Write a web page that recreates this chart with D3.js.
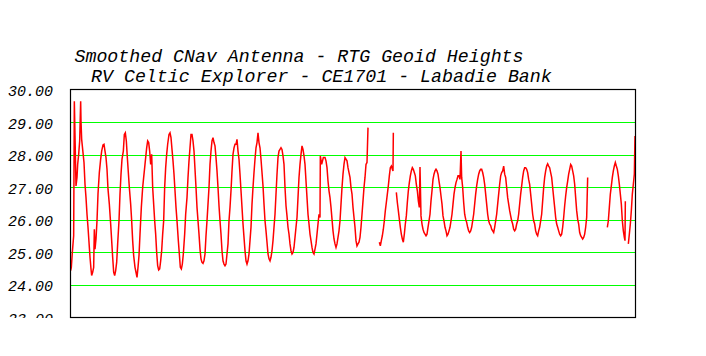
<!DOCTYPE html>
<html><head><meta charset="utf-8">
<script src="https://cdn.jsdelivr.net/npm/d3@7"></script>
<style>html,body{margin:0;padding:0;background:#fff;}svg{display:block;}</style>
</head><body><svg id="c" width="706" height="356"></svg>
<script>
const titleLines = ["Smoothed CNav Antenna - RTG Geoid Heights", "RV Celtic Explorer - CE1701 - Labadie Bank"];
const yTicks = [23, 24, 25, 26, 27, 28, 29, 30];
const gridValues = [24, 25, 26, 27, 28, 29];
// elapsed time (minutes) and smoothed geoid height (m); null = data gap
const minutes = [20,40,70,110,130,180,210,230,260,290,320,330,350,380,420,450,480,510,540,570,600,630,650,680,710,730,750,780,810,840,880,920,950,990,1020,1050,1080,1110,1140,1180,1220,1250,1280,1310,1340,1370,1400,1430,1470,1500,1530,1560,1600,1630,1660,1690,1720,1750,1780,1820,1850,1880,1910,1950,1980,2010,2040,2070,2100,2140,2180,2210,2240,2270,2300,2330,2360,2390,2420,2450,2480,2510,2540,2570,2600,2630,2660,2690,2720,2750,2780,2810,2840,2870,2900,2930,2970,3000,3030,3060,3090,3120,3150,3180,3210,3250,3280,3310,3340,3370,3400,3440,3470,3510,3540,3570,3600,3630,3660,3690,3720,3750,3780,3810,3840,3870,3900,3930,3960,3990,4020,4050,4080,4110,4140,4170,4200,4230,4260,4290,4320,4350,4380,4410,4440,4470,4500,4530,4560,4590,4620,4650,4680,4710,4740,4770,4800,4830,4860,4890,4920,4950,4980,5010,5040,5070,5100,5130,5160,5190,5220,5250,5280,5310,5340,5370,5400,5430,5460,5490,5520,5550,5580,5610,5640,5670,5700,5730,5760,5790,5820,5850,5880,5910,5940,5970,6000,6030,6060,6090,6120,6150,6180,6210,6240,6270,6300,6330,6360,6390,6420,6450,6480,6510,6540,6570,6600,6630,6660,6690,6720,6750,6780,6810,6840,6870,6900,6930,6960,6990,7020,7050,7080,7110,7140,7170,7200,7230,7260,7290,7320,7350,7380,7410,7440,7470,7500,7510,7550,7600,7650,7680,7710,7740,7770,7800,7830,7860,7890,7920,7950,7980,8010,8040,8070,8100,8130,8160,8190,8220,8250,8280,8310,8340,8370,8400,8430,8460,8490,8520,8550,8580,8610,8640,8670,8700,8730,8760,8790,8820,8850,8880,8910,8940,9000,9280,9310,9340,9370,9400,9430,9460,9490,9520,9550,9580,9610,9640,9670,9690,9700,9750,9790,9820,9850,9880,9910,9940,9970,10000,10030,10060,10090,10120,10150,10180,10210,10240,10270,10300,10330,10360,10390,10420,10450,10480,10500,10530,10560,10590,10620,10650,10680,10710,10740,10770,10800,10830,10860,10890,10920,10950,10980,11010,11040,11070,11100,11130,11160,11190,11220,11250,11280,11310,11340,11370,11400,11430,11460,11490,11520,11550,11580,11610,11640,11670,11700,11730,11750,11780,11810,11840,11870,11900,11930,11960,11990,12020,12050,12080,12110,12140,12170,12200,12230,12260,12290,12320,12350,12380,12410,12440,12470,12500,12530,12560,12590,12620,12650,12680,12710,12740,12770,12800,12830,12860,12890,12920,12950,12980,13010,13040,13070,13100,13130,13160,13190,13220,13250,13280,13310,13340,13370,13400,13430,13460,13490,13520,13550,13580,13610,13640,13670,13700,13730,13760,13790,13820,13850,13880,13910,13940,13970,14000,14030,14060,14090,14120,14150,14180,14210,14240,14270,14300,14330,14360,14390,14420,14450,14480,14510,14540,14570,14600,14630,14660,14690,14720,14750,14780,14810,14840,14870,14900,14930,14960,14990,15020,15050,15080,15110,15140,15170,15200,15230,15260,15290,15320,15350,15380,15410,15440,15470,15500,15530,15600,16120,16150,16180,16210,16240,16270,16300,16330,16360,16390,16420,16450,16480,16510,16540,16570,16600,16630,16650,16660,16700,16750,16780,16810,16840,16870,16900,16930,16950];
const heights = [24.44,24.54,25.00,25.51,29.64,27.04,27.30,27.70,28.01,28.42,29.64,29.03,28.47,28.16,27.76,27.09,26.68,26.17,25.77,25.31,24.85,24.49,24.29,24.39,24.54,25.71,25.10,25.41,25.97,26.79,27.45,27.86,28.11,28.30,28.32,28.11,27.91,27.55,26.94,26.48,25.87,25.36,24.85,24.39,24.29,24.44,24.69,25.26,25.97,26.79,27.40,27.86,28.11,28.62,28.67,28.42,27.91,27.45,26.99,26.48,25.97,25.36,24.90,24.54,24.39,24.23,24.54,24.90,25.56,26.38,26.99,27.30,27.60,27.91,28.21,28.42,28.37,28.11,27.70,28.01,26.99,26.48,25.97,25.56,25.00,24.59,24.46,24.49,24.74,25.05,25.56,25.97,26.99,27.60,28.01,28.32,28.62,28.67,28.52,28.16,27.81,27.40,26.89,26.38,25.97,25.36,24.95,24.54,24.49,24.64,24.95,25.56,26.17,26.68,27.30,27.81,28.21,28.62,28.62,28.42,28.11,27.55,26.99,26.38,25.97,25.56,25.10,24.80,24.69,24.66,24.74,24.95,25.51,25.97,26.48,26.99,27.70,28.11,28.42,28.52,28.37,28.27,27.91,27.50,26.99,26.43,25.97,25.56,25.05,24.74,24.64,24.59,24.64,24.95,25.26,25.97,26.38,26.89,27.50,28.01,28.21,28.32,28.32,28.47,28.11,27.86,27.40,26.89,26.38,25.87,25.46,25.05,24.74,24.64,24.74,24.95,25.36,25.77,26.48,26.99,27.45,27.86,28.21,28.37,28.67,28.37,28.21,27.86,27.45,27.04,26.48,25.97,25.66,25.31,24.95,24.80,24.74,24.85,25.05,25.36,25.77,26.17,26.79,27.40,27.91,28.11,28.16,28.21,28.16,27.96,27.70,26.99,26.43,26.12,25.77,25.56,25.26,25.05,24.95,25.00,25.15,25.46,25.77,26.07,26.68,27.30,27.70,28.01,28.27,28.16,27.96,27.70,27.19,26.68,26.17,25.87,25.56,25.36,25.15,25.00,24.95,25.10,25.26,25.56,25.87,26.17,26.07,27.96,27.70,27.91,27.91,27.81,27.60,27.19,26.89,26.68,26.38,26.02,25.66,25.41,25.26,25.15,25.26,25.46,25.66,25.97,26.48,26.99,27.40,27.70,27.91,27.86,27.81,27.60,27.45,27.30,26.99,26.79,26.38,26.07,25.77,25.36,25.20,25.26,25.31,25.46,25.77,26.17,26.58,26.99,27.30,27.70,27.76,28.83,null,25.31,25.20,25.36,25.51,25.71,25.97,26.28,26.53,26.79,27.04,27.35,27.60,27.65,27.55,27.50,28.67,null,26.84,26.53,26.28,26.02,25.77,25.56,25.41,25.31,25.56,25.87,26.12,26.53,26.89,27.14,27.35,27.50,27.60,27.55,27.45,27.35,27.09,26.89,26.58,26.38,27.62,26.12,25.87,25.71,25.61,25.56,25.51,25.56,25.77,25.97,26.17,26.58,26.89,27.24,27.40,27.50,27.55,27.50,27.40,27.19,26.99,26.73,26.48,26.12,25.97,25.77,25.66,25.51,25.56,25.66,25.77,25.97,26.17,26.48,26.79,26.99,27.14,27.24,27.35,27.35,27.24,28.11,27.30,26.99,26.53,26.17,26.02,25.92,25.77,25.66,25.61,25.66,25.77,25.97,26.17,26.48,26.79,27.04,27.24,27.40,27.50,27.55,27.55,27.45,27.30,27.09,26.79,26.48,26.17,25.97,25.87,25.82,25.71,25.66,25.61,25.77,25.97,26.17,26.48,26.79,27.09,27.35,27.45,27.50,27.65,27.40,27.30,26.99,26.68,26.48,26.28,26.12,25.97,25.87,25.71,25.66,25.71,25.87,25.97,26.17,26.48,26.79,27.04,27.30,27.50,27.60,27.60,27.55,27.45,27.24,27.09,26.79,26.48,26.17,25.97,25.87,25.66,25.56,25.51,25.66,25.77,25.97,26.17,26.58,26.99,27.30,27.50,27.65,27.72,27.65,27.60,27.45,27.30,26.99,26.68,26.38,26.07,25.87,25.77,25.66,25.56,25.51,25.56,25.77,26.07,26.43,26.73,26.99,27.19,27.40,27.55,27.70,27.65,27.50,27.35,27.09,26.68,26.28,26.02,25.87,25.61,25.51,25.46,25.41,25.46,25.56,25.77,26.07,27.30,null,25.77,25.97,26.38,26.79,27.04,27.30,27.50,27.65,27.76,27.65,27.55,27.35,27.09,26.79,26.48,25.97,25.66,25.46,25.36,26.57,null,25.26,25.56,25.87,26.28,26.79,27.09,27.40,28.57];

const svg = d3.select("#c");
const L = 70, R = 635, T = 89.5, B = 317.5;
const x = d3.scaleLinear().domain([0, 16950]).range([L, R]);
const y = d3.scaleLinear().domain([23, 30]).range([B, T]);

// title
const font = "'Liberation Mono','Courier New',monospace";
svg.append("text").attr("x", 74.5).attr("y", 61.5)
  .attr("font-family", font).attr("font-style", "italic").attr("font-size", 18.25)
  .attr("fill", "#000").text(titleLines[0]);
svg.append("text").attr("x", 91).attr("y", 81.5)
  .attr("font-family", font).attr("font-style", "italic").attr("font-size", 18.3)
  .attr("fill", "#000").text(titleLines[1]);

// grid
svg.append("g").selectAll("line").data(gridValues).join("line")
  .attr("x1", L).attr("x2", R)
  .attr("y1", d => Math.round(y(d)) + 0.5).attr("y2", d => Math.round(y(d)) + 0.5)
  .attr("stroke", "#00ff00").attr("stroke-width", 1.2);

// y labels (clipped at plot bottom)
svg.append("clipPath").attr("id", "lc").append("rect")
  .attr("x", 0).attr("y", 0).attr("width", L).attr("height", 318);
const yAxis = d3.axisLeft(y).tickValues(yTicks).tickFormat(d3.format(".2f")).tickSize(0).tickPadding(17);
const ga = svg.append("g").attr("transform", `translate(${L},0)`).attr("clip-path", "url(#lc)").call(yAxis);
ga.select(".domain").remove();
ga.selectAll("text").attr("font-family", font).attr("font-style", "italic")
  .attr("font-size", 15).attr("fill", "#000").attr("dy", "0.4em");
ga.attr("clip-path", null);
svg.append("g").attr("clip-path", "url(#lc)").node().appendChild(ga.node());

// data line
const pts = minutes.map((m, i) => ({t: m, v: heights[i]}));
svg.append("path").datum(pts)
  .attr("fill", "none").attr("stroke", "#ff0000").attr("stroke-width", 1.5)
  .attr("d", d3.line().defined(d => d.v !== null).x(d => x(d.t)).y(d => y(d.v)));

// frame
svg.append("rect").attr("x", L + 0.5).attr("y", 89.5).attr("width", R - L).attr("height", 228)
  .attr("fill", "none").attr("stroke", "#000").attr("stroke-width", 1.2);
</script></body></html>
